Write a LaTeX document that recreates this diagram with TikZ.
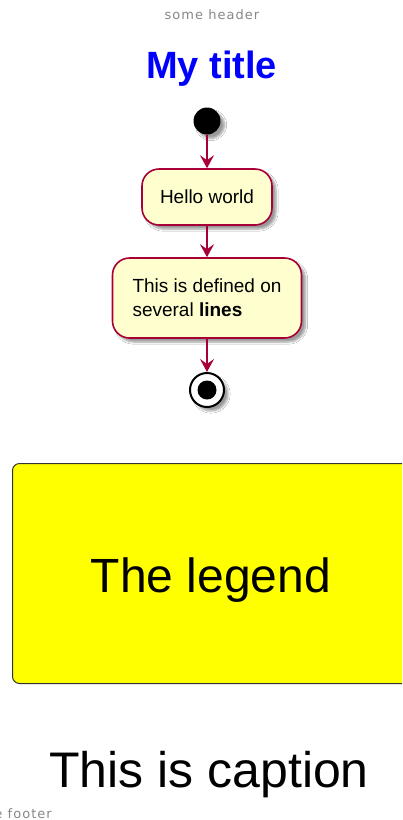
\documentclass[tikz,border=0pt]{standalone}
\usepackage{fontspec}
\setmainfont{Liberation Sans}
\newfontfamily\hdrfont[LetterSpace=8]{DejaVu Sans}
\usetikzlibrary{arrows.meta,shadows.blur}
\definecolor{umlred}{HTML}{A80036}
\definecolor{umlfill}{HTML}{FEFECE}
\definecolor{hdrgray}{HTML}{888888}
\definecolor{ttlblue}{HTML}{0000FF}
\definecolor{lgyellow}{HTML}{FFFF00}
\tikzset{
  shd/.style={blur shadow={shadow xshift=4pt, shadow yshift=-4pt, shadow blur steps=6, shadow opacity=40}},
  actbox/.style={draw=umlred, fill=umlfill, line width=1.6pt, rounded corners=17pt, shd, inner sep=0pt,
    font=\fontsize{19}{24}\selectfont, text=black},
  flow/.style={draw=umlred, line width=1.6pt, -{Stealth[length=13pt,width=14pt,inset=5pt]}},
  hdrtext/.style={text=hdrgray, font=\hdrfont\fontsize{13}{15}\selectfont, inner sep=0pt, anchor=base},
}
\begin{document}
\begin{tikzpicture}[x=1pt,y=-1pt]
\useasboundingbox (0,0) rectangle (402,820);
\clip (0,0) rectangle (402,820);
\fill[white] (0,0) rectangle (402,820);
% header and title
\node[hdrtext] (hdr) at (212,19) {some header};
\node[anchor=base, inner sep=0pt, text=ttlblue, font=\fontsize{38}{40}\selectfont\bfseries] (ttl) at (211.5,78) {My title};
% start
\node[circle, fill=black, minimum size=27pt, inner sep=0pt, shd] (start) at (207,121) {};
% activities
\node[actbox, minimum width=130pt, minimum height=56pt] (hello) at (207,197) {Hello world};
\node[actbox, minimum width=189pt, minimum height=80pt, align=left] (multi) at (207,298)
  {This is defined on\\several \textbf{lines}};
% stop
\node[circle, draw=black, fill=white, line width=2pt, minimum size=34pt, inner sep=0pt, shd] (stop) at (207,390) {};
\node[circle, fill=black, minimum size=19pt, inner sep=0pt] (stopdot) at (stop.center) {};
% connectors
\draw[flow] (start.south) -- (hello.north);
\draw[flow] (hello.south) -- (multi.north);
\draw[flow] (multi.south) -- (stop.north);
% legend
\node[draw=black!80, fill=lgyellow, line width=1pt, rounded corners=7pt, anchor=north west,
  minimum width=420pt, minimum height=220pt, inner sep=0pt] (legendbox) at (12,463) {};
\node[anchor=base, inner sep=0pt, font=\fontsize{48}{52}\selectfont] (legend) at (211,592) {The legend};
% caption
\node[anchor=base, inner sep=0pt, font=\fontsize{50}{54}\selectfont] (caption) at (209,787) {This is caption};
% footer
\node[hdrtext, anchor=base east] (ftr) at (52,818) {some footer};
\end{tikzpicture}
\end{document}
